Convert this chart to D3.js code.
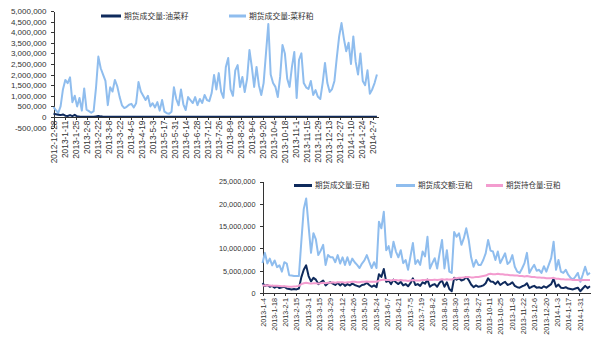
<!DOCTYPE html>
<html>
<head>
<meta charset="utf-8">
<script src="https://cdn.jsdelivr.net/npm/d3@7/dist/d3.min.js"></script>
<style>
  html, body { margin: 0; padding: 0; background: #fff; }
  svg { display: block; }
  .axis text { font-family: "Liberation Sans", Arial, sans-serif; fill: #333; }
  .axis path, .axis line { stroke: #333; shape-rendering: crispEdges; }
  .legend text { font-family: "Noto Sans CJK SC", sans-serif; fill: #333; }
</style>
</head>
<body>
<svg id="chart" width="600" height="345"></svg>
<script>
// ---------- Rapeseed & rapeseed meal futures (sampled every 3 days from 2012-12-28), thousand lots ----------
const rapeStart = "2012-12-28";
const rapeStepDays = 3;
const rapeMealVolume = [
  470,330,190,500,1300,1750,1600,1870,700,1000,
  500,900,300,1350,350,280,200,280,1370,2850,
  2300,2000,1700,560,1400,1200,1750,1450,950,550,
  420,480,580,620,450,650,1650,1200,1000,800,
  1000,500,650,450,700,300,800,250,180,150,
  250,1400,850,550,1300,600,330,940,800,660,
  940,560,850,660,1040,800,750,1130,1980,1300,
  2070,1200,900,2360,2780,1300,1000,2200,2450,1420,
  1890,1180,1800,3160,2360,1420,2360,1500,1040,1600,
  3000,4390,2000,1600,1420,940,1890,3400,3000,1800,
  1420,2360,3070,900,2700,3000,1600,1400,1320,1700,
  1040,1270,950,850,1600,2550,1600,1180,1320,1700,
  2800,3800,4430,3700,3100,3500,2500,3800,2600,2000,
  3000,1700,1500,2200,1100,1300,1600,2000
];
const rapeseedVolume = [
  150,130,110,90,120,60,50,90,40,100,
  30,20,15,10,10,8,10,10,30,50,
  30,15,10,10,8,10,10,8,10,10,
  9,10,8,10,10,9,10,8,10,10,
  8,10,9,10,8,10,10,9,8,10,
  10,8,10,9,10,8,10,10,9,10,
  8,10,10,9,10,8,10,9,10,10,
  8,10,9,10,10,8,10,9,10,8,
  10,10,9,10,8,10,10,9,10,8,
  10,9,10,10,8,10,9,10,10,8,
  10,9,10,8,10,10,9,10,8,10,
  10,9,10,8,10,10,9,10,8,10,
  10,9,10,8,10,10,9,10,8,10,
  9,10,8,10,10,9,10,8
];
const rapeTickLabels = ["2012-12-28","2013-1-11","2013-1-25","2013-2-8","2013-2-22","2013-3-8","2013-3-22",
  "2013-4-5","2013-4-19","2013-5-3","2013-5-17","2013-5-31","2013-6-14","2013-6-28","2013-7-12","2013-7-26",
  "2013-8-9","2013-8-23","2013-9-6","2013-9-20","2013-10-4","2013-10-18","2013-11-1","2013-11-15",
  "2013-11-29","2013-12-13","2013-12-27","2014-1-10","2014-1-24","2014-2-7"];
const rapeYTicks = [-500000,0,500000,1000000,1500000,2000000,2500000,3000000,3500000,4000000,4500000,5000000];
const rapeSeriesNames = ["期货成交量:油菜籽","期货成交量:菜籽粕"];

// ---------- Soybean meal futures (sampled every 3 days from 2013-1-4), millions ----------
const soyStart = "2013-1-4";
const soyStepDays = 3;
const soyVolume = [
  2.2,1.6,1.8,1.4,1.6,1.2,1.5,1.1,1.3,1.4,
  1.0,0.9,0.8,0.9,0.8,1.0,3.5,5.2,6.2,3.8,
  2.6,3.4,3.0,2.0,2.4,2.8,1.7,2.2,2.4,2.1,
  1.8,2.3,1.7,2.2,1.6,2.0,1.7,2.1,1.8,1.6,
  1.4,1.8,1.9,2.3,1.8,1.4,1.7,1.3,4.2,3.6,
  5.4,2.5,2.8,2.0,3.0,2.4,2.0,2.5,1.7,2.0,
  1.5,2.2,3.3,1.8,2.0,1.6,2.4,2.1,3.0,1.4,
  1.8,2.0,1.4,2.3,2.8,1.4,2.4,0.9,0.4,3.4,
  3.0,3.3,2.8,3.0,3.6,2.9,1.9,1.3,1.7,1.4,
  1.5,1.7,2.2,3.3,2.6,2.5,2.0,2.6,1.8,2.2,
  2.5,1.8,2.0,2.4,1.6,1.3,1.2,1.5,1.7,2.2,
  1.1,1.4,1.6,1.2,1.3,1.1,1.5,1.2,1.6,2.0,
  3.2,1.4,1.9,1.2,1.1,1.3,1.0,0.9,0.8,1.0,
  1.2,0.4,1.0,1.6,1.1,1.5
];
const soyTurnover = [
  6.7,9.0,6.6,7.7,6.2,7.3,5.8,6.2,4.8,6.9,
  6.6,4.0,3.9,3.8,3.8,3.8,11.5,18.8,21.2,15.0,
  9.0,13.4,12.0,8.5,9.5,10.8,6.3,8.5,8.0,8.0,
  6.9,8.5,6.6,8.0,6.3,8.0,6.3,7.7,6.9,6.3,
  5.6,6.6,7.3,8.5,7.0,5.6,6.9,5.6,16.0,14.5,
  18.2,9.6,10.5,8.0,11.5,9.3,8.0,9.6,6.7,7.4,
  5.2,8.2,11.2,6.5,7.4,6.3,9.3,8.2,12.6,5.5,
  6.7,7.8,5.5,8.9,11.9,5.5,9.6,4.8,4.5,13.7,
  12.6,13.4,10.8,12.3,14.5,11.9,8.0,5.9,7.4,6.3,
  6.3,7.4,8.9,11.9,9.5,9.3,7.4,9.3,6.7,7.8,
  8.9,6.5,7.0,8.5,5.9,4.8,4.5,5.5,6.7,9.0,
  4.5,5.5,6.3,5.0,5.2,4.5,6.0,4.8,6.3,7.8,
  11.5,5.2,7.4,4.8,4.5,5.2,4.1,3.4,3.0,3.7,
  4.5,2.5,4.1,5.9,4.1,4.5
];
const soyOpenInterest = [
  1.7,1.7,1.75,1.7,1.65,1.6,1.6,1.55,1.5,1.5,
  1.45,1.4,1.4,1.45,1.5,1.6,2.0,2.2,2.3,2.2,
  2.1,2.2,2.2,2.1,2.2,2.3,2.2,2.3,2.3,2.4,
  2.3,2.4,2.4,2.4,2.3,2.4,2.4,2.5,2.5,2.4,
  2.4,2.5,2.5,2.6,2.5,2.5,2.5,2.5,2.8,2.9,
  3.0,2.9,2.9,2.8,2.9,2.9,2.8,2.9,2.8,2.8,
  2.7,2.8,2.9,2.8,2.8,2.8,2.9,2.9,3.0,2.9,
  2.9,3.0,2.9,3.0,3.1,3.0,3.1,3.0,3.0,3.3,
  3.3,3.4,3.4,3.5,3.6,3.6,3.5,3.5,3.6,3.6,
  3.7,3.8,3.9,4.2,4.3,4.2,4.2,4.3,4.2,4.2,
  4.1,4.1,4.0,4.0,3.9,3.9,3.8,3.8,3.7,3.8,
  3.7,3.6,3.6,3.5,3.5,3.4,3.4,3.3,3.3,3.3,
  3.4,3.2,3.2,3.1,3.1,3.0,3.0,3.0,2.9,2.9,
  2.9,2.8,2.9,2.9,2.9,2.9
];
const soyTickLabels = ["2013-1-4","2013-1-18","2013-2-1","2013-2-15","2013-3-1","2013-3-15","2013-3-29",
  "2013-4-12","2013-4-26","2013-5-10","2013-5-24","2013-6-7","2013-6-21","2013-7-5","2013-7-19","2013-8-2",
  "2013-8-16","2013-8-30","2013-9-13","2013-9-27","2013-10-11","2013-10-25","2013-11-8","2013-11-22",
  "2013-12-6","2013-12-20","2014-1-3","2014-1-17","2014-1-31"];
const soyYTicks = [0,5000000,10000000,15000000,20000000,25000000];
const soySeriesNames = ["期货成交量:豆粕","期货成交额:豆粕","期货持仓量:豆粕"];

// ---------- helpers ----------
const NAVY = "#0f2a5c", LIGHT = "#8fbdee", PINK = "#f39ccf";
const parseDay = s => { const [y, m, d] = s.split("-").map(Number); return new Date(y, m - 1, d); };
const fmtNum = v => d3.format(",")(v).replace("\u2212", "-");
const sampleDates = (start, step, n) => d3.range(n).map(i => d3.timeDay.offset(parseDay(start), i * step));

const svg = d3.select("#chart");

function drawPanel(cfg) {
  const g = svg.append("g");
  const x = d3.scaleTime().domain(cfg.xDomain.map(parseDay)).range(cfg.xRange);
  const y = d3.scaleLinear().domain(cfg.yDomain).range(cfg.yRange);

  // value axis
  g.append("g").attr("class", "axis")
    .attr("transform", `translate(${cfg.xRange[0]},0)`)
    .call(d3.axisLeft(y).tickValues(cfg.yTicks).tickFormat(fmtNum).tickSize(3).tickSizeOuter(0).tickPadding(4))
    .call(a => a.selectAll("text").style("font-size", cfg.yFont + "px"));

  // series lines
  cfg.series.forEach(s => {
    const dates = sampleDates(cfg.start, cfg.step, s.values.length);
    const line = d3.line().x((d, i) => x(dates[i])).y(d => y(d * cfg.unit));
    g.append("path").datum(s.values)
      .attr("d", line).attr("fill", "none")
      .attr("stroke", s.color).attr("stroke-width", s.width)
      .attr("stroke-linejoin", "round");
  });

  // date axis on the zero line
  g.append("g").attr("class", "axis")
    .attr("transform", `translate(0,${y(0)})`)
    .call(d3.axisBottom(x).tickValues(cfg.xTicks.map(parseDay))
      .tickFormat((d, i) => cfg.xTicks[i]).tickSize(3).tickSizeOuter(0))
    .call(a => a.selectAll("text")
      .style("font-size", cfg.xFont + "px")
      .attr("transform", "rotate(-90)")
      .attr("text-anchor", "end")
      .attr("x", -cfg.xLabelGap).attr("y", 0).attr("dy", "0.35em"));

  // legend
  const lg = g.append("g").attr("class", "legend");
  cfg.legend.forEach(item => {
    lg.append("line").attr("x1", item.x).attr("x2", item.x + item.len)
      .attr("y1", cfg.legendY).attr("y2", cfg.legendY)
      .attr("stroke", item.color).attr("stroke-width", 3);
    lg.append("text").attr("x", item.x + item.len + 3).attr("y", cfg.legendY)
      .attr("dy", "0.35em").style("font-size", cfg.legendFont + "px").text(item.name);
  });
}

// upper panel: rapeseed / rapeseed meal
drawPanel({
  start: rapeStart, step: rapeStepDays, unit: 1000,
  xDomain: ["2012-12-28", "2014-2-14"], xRange: [53.5, 378.5],
  yDomain: [-500000, 5000000], yRange: [127.6, 11],
  yTicks: rapeYTicks, xTicks: rapeTickLabels,
  yFont: 8, xFont: 8.4, xLabelGap: 3.5,
  series: [
    { values: rapeMealVolume, color: LIGHT, width: 2 },
    { values: rapeseedVolume, color: NAVY, width: 2 }
  ],
  legendY: 16, legendFont: 7.8,
  legend: [
    { name: rapeSeriesNames[0], color: NAVY, x: 101, len: 20 },
    { name: rapeSeriesNames[1], color: LIGHT, x: 229, len: 17 }
  ]
});

// lower panel: soybean meal
drawPanel({
  start: soyStart, step: soyStepDays, unit: 1000000,
  xDomain: ["2013-1-4", "2014-2-13"], xRange: [262.5, 590],
  yDomain: [0, 25000000], yRange: [293, 181.5],
  yTicks: soyYTicks, xTicks: soyTickLabels,
  yFont: 7.3, xFont: 7.2, xLabelGap: 5,
  series: [
    { values: soyTurnover, color: LIGHT, width: 2 },
    { values: soyVolume, color: NAVY, width: 2 },
    { values: soyOpenInterest, color: PINK, width: 2 }
  ],
  legendY: 185.5, legendFont: 7.5,
  legend: [
    { name: soySeriesNames[0], color: NAVY, x: 294, len: 18 },
    { name: soySeriesNames[1], color: LIGHT, x: 396, len: 19 },
    { name: soySeriesNames[2], color: PINK, x: 486, len: 17 }
  ]
});
</script>
</body>
</html>
